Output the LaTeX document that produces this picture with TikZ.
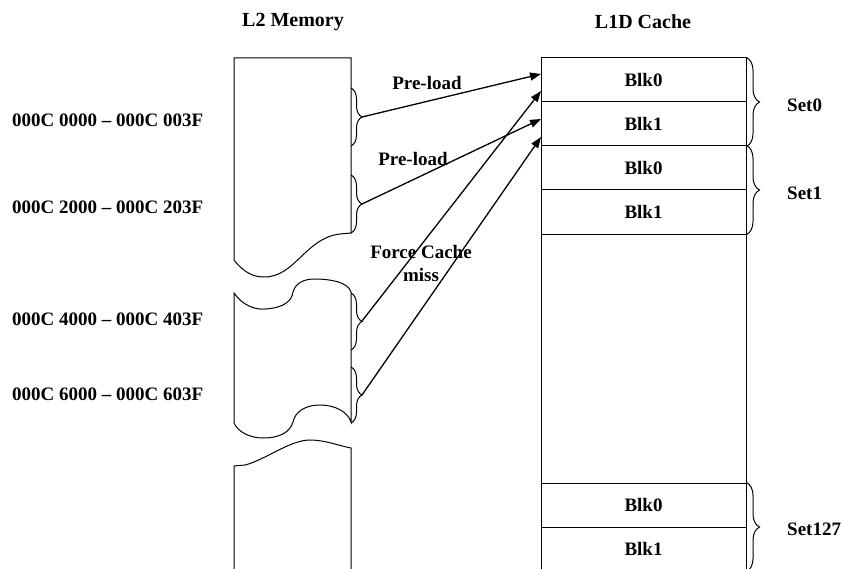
\documentclass[tikz,border=0pt]{standalone}
\usepackage{fontspec}
\setmainfont{Liberation Serif}
\usetikzlibrary{arrows.meta,decorations.pathreplacing}
\tikzset{
  blk/.style={draw, line width=1pt, minimum width=205pt, minimum height=44pt, inner sep=0pt, font=\bfseries\fontsize{19}{23}\selectfont},
  lbl/.style={inner sep=0pt, font=\bfseries\fontsize{19}{23}\selectfont},
  grp/.style={decorate, decoration={brace, amplitude=#1pt}, line width=1pt},
  ld/.style={-{Triangle[length=11pt,width=8pt]}, line width=1.3pt},
}
\begin{document}
\begin{tikzpicture}[x=1pt, y=-1pt]
    \useasboundingbox (0,0) rectangle (842,569);
    \clip (0,0) rectangle (842,569);

    % Titres
    \node[lbl, font=\bfseries\fontsize{20}{23}\selectfont] (l2t) at (293,22) {L2 Memory};
    \node[lbl, font=\bfseries\fontsize{20}{23}\selectfont] (l1t) at (643,22) {L1D Cache};

    % L2 memory, three torn pieces
    \draw[line width=1pt] (234,260) -- (234,58) -- (351,58) -- (351,233) -- (340,234)
        .. controls (305,238) and (295,278) .. (263,277)
        .. controls (250,277) and (240,268) .. (234,260);
    \draw[line width=1pt] (234,293) .. controls (242,305) and (255,310) .. (265,309)
        .. controls (285,308) and (292,300) .. (293,292)
        .. controls (296,282) and (305,279) .. (315,279)
        .. controls (330,279) and (348,282) .. (351,292) -- (351,422)
        .. controls (348,412) and (335,405) .. (320,405)
        .. controls (305,405) and (295,412) .. (293,422)
        .. controls (290,432) and (280,438) .. (263,438)
        .. controls (250,438) and (238,432) .. (234,423) -- cycle;
    \draw[line width=1pt] (234,580) -- (234,466) -- (245,465)
        .. controls (265,460) and (290,440) .. (310,440)
        .. controls (325,440) and (340,446) .. (351,448) -- (351,580);

    % Accolades L2
    \draw[grp=11] (351,88) -- (351,146);
    \draw[grp=11] (351,175) -- (351,233);
    \draw[grp=11] (351,293) -- (351,350);
    \draw[grp=11] (351,367) -- (351,423);
    \coordinate (m0) at (362,117);
    \coordinate (m2) at (362,204);
    \coordinate (m4) at (362,321);
    \coordinate (m6) at (362,395);

    \node[lbl, anchor=west] (a0) at (12,120) {000C 0000 -- 000C 003F};
    \node[lbl, anchor=west] (a2) at (12,207) {000C 2000 -- 000C 203F};
    \node[lbl, anchor=west] (a4) at (12,319) {000C 4000 -- 000C 403F};
    \node[lbl, anchor=west] (a6) at (12,394) {000C 6000 -- 000C 603F};

    % Cache L1D
    \draw[line width=1pt] (541,58) -- (541,580);
    \draw[line width=1pt] (746,58) -- (746,580);
    \node[blk] (s0b0) at (643.5,80) {Blk0};
    \node[blk] (s0b1) at (643.5,124) {Blk1};
    \node[blk] (s1b0) at (643.5,168) {Blk0};
    \node[blk] (s1b1) at (643.5,212) {Blk1};
    \node[blk] (s127b0) at (643.5,505) {Blk0};
    \node[blk] (s127b1) at (643.5,549) {Blk1};

    % Accolades des sets
    \draw[grp=13] (s0b0.north east) -- (s0b1.south east);
    \draw[grp=13] (s1b0.north east) -- (s1b1.south east);
    \draw[grp=13] (s127b0.north east) -- (s127b1.south east);
    \node[lbl, anchor=west] (set0) at (787,105) {Set0};
    \node[lbl, anchor=west] (set1) at (787,193) {Set1};
    \node[lbl, anchor=west] (set127) at (787,529) {Set127};

    % Fleches
    \coordinate (c0) at (541,74);
    \coordinate (c1) at (541,91);
    \coordinate (c2) at (541,119);
    \coordinate (c3) at (541,137);
    \draw[ld] (m0) -- (c0);
    \draw[ld] (m2) -- (c2);
    \draw[ld] (m4) -- (c1);
    \draw[ld] (m6) -- (c3);
    \node[lbl] (pl0) at (427,83) {Pre-load};
    \node[lbl] (pl1) at (413,159) {Pre-load};
    \node[lbl, align=center] (fcm) at (421,263) {Force Cache\\miss};
\end{tikzpicture}
\end{document}
